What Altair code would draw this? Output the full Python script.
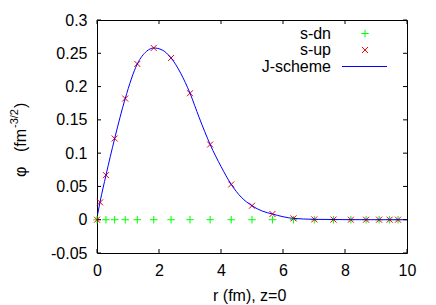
import altair as alt
import pandas as pd

# ---- data ----
r_up = [0, 0.1, 0.29, 0.57, 0.91, 1.3, 1.83, 2.39, 3.0, 3.65, 4.33, 5.0, 5.66, 6.34,
        7.01, 7.63, 8.19, 8.68, 9.1, 9.44, 9.71]
phi_up = [0, 0.026, 0.067, 0.122, 0.182, 0.234, 0.258, 0.243, 0.190, 0.113, 0.053,
          0.021, 0.0086, 0.002, 0.0005, 0.0002, 0, 0, 0, 0, 0]

r_dn = [0, 0.29, 0.57, 0.91, 1.3, 1.83, 2.39, 3.0, 3.65, 4.33, 5.0, 5.66, 6.34,
        7.01, 7.63, 8.19, 8.68, 9.1, 9.44, 9.71]
phi_dn = [0] * len(r_dn)

r_j = [0.02, 0.1, 0.29, 0.57, 0.91, 1.3, 1.6, 1.83, 2.1, 2.39, 2.7, 3.0, 3.3, 3.65,
       4.0, 4.33, 4.65, 5.0, 5.33, 5.66, 6.0, 6.34, 7.0, 8.0, 9.0, 10.0]
phi_j = [0.008, 0.027, 0.067, 0.122, 0.182, 0.234, 0.253, 0.258, 0.255, 0.243, 0.22,
         0.19, 0.153, 0.113, 0.08, 0.053, 0.034, 0.021, 0.013, 0.0086, 0.0045, 0.002,
         0.0006, 0.0001, 0.0, 0.0]

x_ticks = [0, 2, 4, 6, 8, 10]
y_ticks = [-0.05, 0, 0.05, 0.1, 0.15, 0.2, 0.25, 0.3]

FONT = "Liberation Sans"
FS = 16
W, H = 310, 233

xs = alt.Scale(domain=[0, 10], nice=False, zero=False)
ys = alt.Scale(domain=[-0.05, 0.3], nice=False, zero=False)

xaxis = alt.Axis(values=x_ticks, ticks=False, domain=False, grid=False, title=None,
                 labelFont=FONT, labelFontSize=FS, labelColor="black",
                 labelBaseline="alphabetic", labelPadding=22, labelFlush=False,
                 labelOverlap=False, labelBound=False)
yaxis = alt.Axis(values=y_ticks, ticks=False, domain=False, grid=False, title=None,
                 labelFont=FONT, labelFontSize=FS, labelColor="black",
                 labelPadding=10, labelFlush=False, labelOverlap=False, labelBound=False,
                 labelExpr="replace(format(datum.value, '.2~f'), '\u2212', '-')")

dn_df = pd.DataFrame({"r": r_dn, "phi": phi_dn})
up_df = pd.DataFrame({"r": r_up, "phi": phi_up})
j_df = pd.DataFrame({"r": r_j, "phi": phi_j})

PLUS = "M-1,0L1,0M0,-1L0,1"
XSH = "M-1,-1L1,1M-1,1L1,-1"

X = lambda f: alt.X(f, type="quantitative", scale=xs, axis=xaxis)
Y = lambda f: alt.Y(f, type="quantitative", scale=ys, axis=yaxis)

dn = alt.Chart(dn_df).mark_point(shape=PLUS, filled=False, color="#00ff00",
                                 strokeWidth=1, size=56, opacity=1).encode(
    x=X("r"), y=Y("phi"))
up = alt.Chart(up_df).mark_point(shape=XSH, filled=False, color="#ff0000",
                                 strokeWidth=1, size=36, opacity=1).encode(
    x=X("r"), y=Y("phi"))
jline = alt.Chart(j_df).mark_line(color="#0000ff", strokeWidth=1,
                                  interpolate="monotone").encode(
    x=X("r"), y=Y("phi"))

# inward ticks on all four sides
xt_df = pd.DataFrame({"v": x_ticks})
yt_df = pd.DataFrame({"v": y_ticks})
tick_b = alt.Chart(xt_df).mark_rule(color="black", strokeWidth=1).encode(
    x=X("v"), y=alt.value(H), y2=alt.value(H - 4))
tick_t = alt.Chart(xt_df).mark_rule(color="black", strokeWidth=1).encode(
    x=X("v"), y=alt.value(0), y2=alt.value(4))
tick_l = alt.Chart(yt_df).mark_rule(color="black", strokeWidth=1).encode(
    y=Y("v"), x=alt.value(0), x2=alt.value(4))
tick_r = alt.Chart(yt_df).mark_rule(color="black", strokeWidth=1).encode(
    y=Y("v"), x=alt.value(W - 4), x2=alt.value(W))

one = pd.DataFrame({"a": [0]})

def txt(s, x, y, size=FS, align="left", baseline="middle", angle=0):
    return alt.Chart(one).mark_text(text=s, font=FONT, fontSize=size, color="black",
                                    align=align, baseline=baseline, angle=angle).encode(
        x=alt.value(x), y=alt.value(y))

# legend (gnuplot style: label then sample)
leg = [
    txt("s-dn", 234, 13.5, align="right"),
    txt("s-up", 234, 30, align="right"),
    txt("J-scheme", 234, 46.5, align="right"),
    alt.Chart(one).mark_point(shape=PLUS, filled=False, color="#00ff00", strokeWidth=1,
                              size=56, opacity=1).encode(x=alt.value(268), y=alt.value(13.5)),
    alt.Chart(one).mark_point(shape=XSH, filled=False, color="#ff0000", strokeWidth=1,
                              size=36, opacity=1).encode(x=alt.value(268), y=alt.value(30)),
    alt.Chart(one).mark_rule(color="#0000ff", strokeWidth=1).encode(
        x=alt.value(245), x2=alt.value(290), y=alt.value(46.5)),
]

# axis titles
titles = [
    txt("r (fm), z=0", 152.7, 281, align="center", baseline="alphabetic"),
    txt("\u03c6", -71, 157, align="left", baseline="alphabetic", angle=270),
    txt("(fm", -71, 132, align="left", baseline="alphabetic", angle=270),
    txt("-3/2", -79, 108, size=11, align="left", baseline="alphabetic", angle=270),
    txt(")", -71, 88, align="left", baseline="alphabetic", angle=270),
]

chart = alt.layer(dn, up, jline, tick_b, tick_t, tick_l, tick_r, *leg, *titles).properties(
    width=W, height=H,
    autosize=alt.AutoSizeParams(type="none"),
    padding={"left": 89, "top": 12, "right": 21, "bottom": 52},
).configure_view(stroke="black", strokeWidth=1)

chart.save("out.html", embed_options={"renderer": "svg", "actions": False})
